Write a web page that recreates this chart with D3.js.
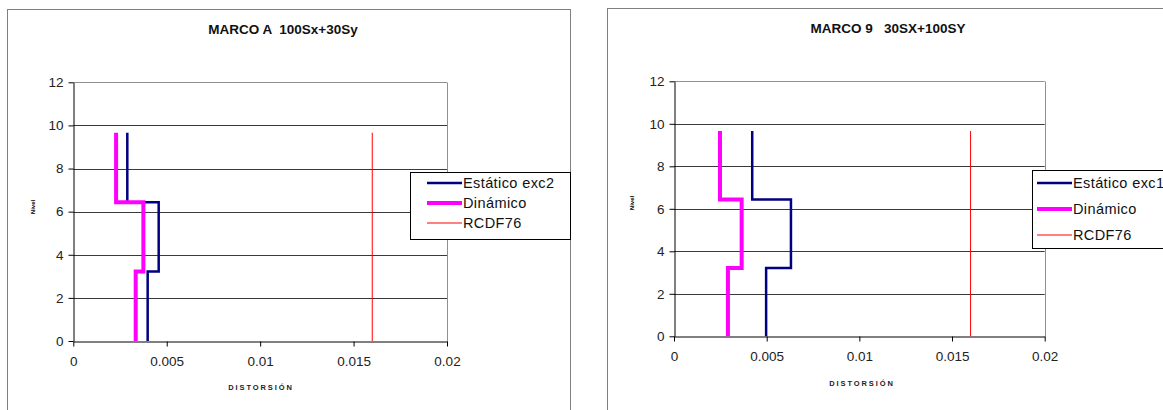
<!DOCTYPE html>
<html>
<head>
<meta charset="utf-8">
<script src="https://cdn.jsdelivr.net/npm/d3@7"></script>
<style>
  html, body { margin: 0; padding: 0; background: #fff; }
  svg { display: block; }
  text { font-family: "Liberation Sans", Arial, sans-serif; white-space: pre; }
</style>
</head>
<body>
<svg id="chart" width="1163" height="410"></svg>
<script>
// Storey levels (m) and inter-storey drift per storey, bottom to top
const levels = [0, 3.22, 6.44, 9.66];
const estaticoA = [0.00398, 0.00457, 0.00289];
const dinamicoA = [0.00334, 0.00375, 0.00229];
const estatico9 = [0.00497, 0.00631, 0.00422];
const dinamico9 = [0.00291, 0.00365, 0.00248];
const limiteRCDF = 0.016;

const xTicks = [0, 0.005, 0.01, 0.015, 0.02];
const xTickLabels = ["0", "0.005", "0.01", "0.015", "0.02"];
const yTicks = [0, 2, 4, 6, 8, 10, 12];

const titles = ["MARCO A  100Sx+30Sy", "MARCO 9   30SX+100SY"];
const legendEstatico = ["Estático exc2", "Estático exc1"];
const legendDinamico = "Dinámico";
const legendRCDF = "RCDF76";
const xTitle = "DISTORSIÓN";
const yTitle = "Nivel";

const svg = d3.select("#chart");

// Build a stepped profile: each storey drift held constant between floor levels
function stepProfile(drifts) {
  const pts = [];
  drifts.forEach((v, i) => {
    pts.push([v, levels[i]]);
    pts.push([v, levels[i + 1]]);
  });
  return pts;
}

function drawPanel(cfg) {
  const g = svg.append("g");

  // outer chart frame
  g.append("rect")
    .attr("x", cfg.frame[0] + 0.5).attr("y", cfg.frame[1] + 0.5)
    .attr("width", cfg.frame[2]).attr("height", cfg.frame[3])
    .attr("fill", "#fff").attr("stroke", "#808080").attr("stroke-width", 1);

  const x = d3.scaleLinear().domain([0, 0.02]).range([cfg.plot.left, cfg.plot.right]);
  const y = d3.scaleLinear().domain([0, 12]).range([cfg.plot.bottom, cfg.plot.top]);

  // horizontal gridlines
  g.append("g").selectAll("line")
    .data(yTicks.filter(d => d > 0))
    .join("line")
    .attr("x1", x(0)).attr("x2", x(0.02))
    .attr("y1", d => Math.round(y(d)) + 0.5).attr("y2", d => Math.round(y(d)) + 0.5)
    .attr("stroke", d => d === 12 ? "#909090" : "#3a3a3a").attr("stroke-width", 1);

  // right edge of plot area
  g.append("line")
    .attr("x1", Math.round(x(0.02)) + 0.5).attr("x2", Math.round(x(0.02)) + 0.5)
    .attr("y1", Math.round(y(12)) + 0.5).attr("y2", Math.round(y(0)) + 0.5)
    .attr("stroke", "#909090");

  // axes
  const xAxis = d3.axisBottom(x).tickValues(xTicks)
    .tickFormat((d, i) => xTickLabels[i]).tickSize(5).tickSizeOuter(0).tickPadding(10);
  const gx = g.append("g")
    .attr("transform", `translate(0,${Math.round(y(0)) + 0.5})`)
    .call(xAxis);
  gx.select(".domain").attr("stroke", "#000");
  gx.selectAll(".tick line").attr("stroke", "#000");
  gx.selectAll(".tick text").attr("font-size", 13.5).attr("fill", "#222")
    .attr("font-family", "Liberation Sans, Arial, sans-serif");

  const yAxis = d3.axisLeft(y).tickValues(yTicks).tickSize(5).tickSizeOuter(0).tickPadding(5);
  const gy = g.append("g")
    .attr("transform", `translate(${Math.round(x(0)) + 0.5},0)`)
    .call(yAxis);
  gy.select(".domain").attr("stroke", "#000");
  gy.selectAll(".tick line").attr("stroke", "#000");
  gy.selectAll(".tick text").attr("font-size", 13.5).attr("fill", "#222")
    .attr("font-family", "Liberation Sans, Arial, sans-serif");

  const line = d3.line().x(d => x(d[0])).y(d => y(d[1]));

  // code limit
  g.append("path")
    .attr("d", line([[limiteRCDF, levels[0]], [limiteRCDF, levels[levels.length - 1]]]))
    .attr("fill", "none").attr("stroke", "#ff0000").attr("stroke-width", 1);

  // static profile
  g.append("path")
    .attr("d", line(stepProfile(cfg.estatico)))
    .attr("fill", "none").attr("stroke", "#000080").attr("stroke-width", 2.5)
    .attr("stroke-linejoin", "miter");

  // dynamic profile
  g.append("path")
    .attr("d", line(stepProfile(cfg.dinamico)))
    .attr("fill", "none").attr("stroke", "#ff00ff").attr("stroke-width", 4)
    .attr("stroke-linejoin", "miter");

  // chart title
  g.append("text")
    .attr("x", cfg.titlePos[0]).attr("y", cfg.titlePos[1])
    .attr("text-anchor", "middle").attr("font-size", 13.5).attr("font-weight", "bold")
    .attr("xml:space", "preserve")
    .attr("fill", "#111").text(cfg.title);

  // axis titles
  g.append("text")
    .attr("x", cfg.xTitlePos[0]).attr("y", cfg.xTitlePos[1])
    .attr("text-anchor", "middle").attr("font-size", 7.5).attr("font-weight", "bold")
    .attr("letter-spacing", 1.9).attr("fill", "#222").text(xTitle);

  g.append("text")
    .attr("transform", `translate(${cfg.yTitlePos[0]},${cfg.yTitlePos[1]}) rotate(-90)`)
    .attr("text-anchor", "middle").attr("font-size", 6).attr("font-weight", "bold")
    .attr("fill", "#000").text(yTitle);

  // legend
  const lg = cfg.legend;
  g.append("rect")
    .attr("x", lg.x + 0.5).attr("y", lg.y + 0.5)
    .attr("width", lg.w).attr("height", lg.h)
    .attr("fill", "#fff").attr("stroke", "#000").attr("stroke-width", 1);
  const items = [
    { label: cfg.estaticoLabel, color: "#000080", width: 2.5 },
    { label: legendDinamico, color: "#ff00ff", width: 4 },
    { label: legendRCDF, color: "#ff0000", width: 1 }
  ];
  items.forEach((it, i) => {
    const cy = lg.y + lg.first + i * lg.step;
    g.append("line")
      .attr("x1", lg.x + lg.lineX0).attr("x2", lg.x + lg.lineX1)
      .attr("y1", cy).attr("y2", cy)
      .attr("stroke", it.color).attr("stroke-width", it.width);
    g.append("text")
      .attr("x", lg.x + lg.lineX1 + 1).attr("y", cy + 5)
      .attr("font-size", lg.font).attr("letter-spacing", 0.4)
      .attr("fill", "#111").text(it.label);
  });
}

drawPanel({
  frame: [7, 9, 563, 420],
  plot: { left: 73.3, right: 447, top: 82.3, bottom: 341 },
  estatico: estaticoA,
  dinamico: dinamicoA,
  title: titles[0],
  titlePos: [283, 34],
  xTitlePos: [261, 390],
  yTitlePos: [35, 207],
  estaticoLabel: legendEstatico[0],
  legend: { x: 410, y: 172, w: 160, h: 67, first: 11, step: 20, lineX0: 17, lineX1: 52, font: 14.5 }
});

drawPanel({
  frame: [607, 8, 580, 420],
  plot: { left: 674, right: 1044.7, top: 81.3, bottom: 336.3 },
  estatico: estatico9,
  dinamico: dinamico9,
  title: titles[1],
  titlePos: [888, 33],
  xTitlePos: [862, 386],
  yTitlePos: [634, 203],
  estaticoLabel: legendEstatico[1],
  legend: { x: 1032, y: 170, w: 140, h: 78, first: 13, step: 26, lineX0: 5, lineX1: 40, font: 14.5 }
});
</script>
</body>
</html>
